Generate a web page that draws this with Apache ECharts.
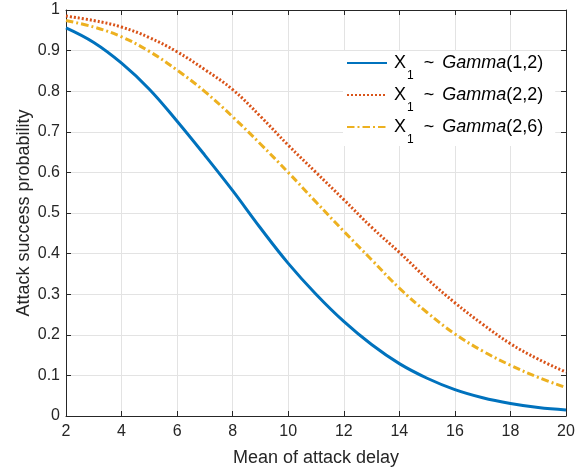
<!DOCTYPE html>
<html>
<head>
<meta charset="utf-8">
<script src="https://cdn.jsdelivr.net/npm/echarts@6/dist/echarts.min.js"></script>
<style>
  html, body { margin: 0; padding: 0; background: #fff; }
  #chart { width: 582px; height: 472px; }
</style>
</head>
<body>
<div id="chart"></div>
<script>
// mean of attack delay
const delayMeans = [2, 3, 4, 5, 6, 7, 8, 9, 10, 11, 12, 13, 14, 15, 16, 17, 18, 19, 20]

// attack success probability
const gamma12 = [0.956, 0.92, 0.869, 0.805, 0.726, 0.642, 0.555, 0.463, 0.376, 0.30, 0.233, 0.176, 0.129, 0.093, 0.065, 0.045, 0.031, 0.021, 0.015]
const gamma22 = [0.985, 0.974, 0.958, 0.932, 0.897, 0.853, 0.804, 0.738, 0.667, 0.60, 0.533, 0.465, 0.403, 0.338, 0.279, 0.226, 0.178, 0.14, 0.108]
const gamma26 = [0.974, 0.958, 0.934, 0.898, 0.852, 0.799, 0.737, 0.67, 0.60, 0.527, 0.455, 0.385, 0.315, 0.255, 0.202, 0.16, 0.125, 0.095, 0.070]

const gammaParams = ['(1,2)', '(2,2)', '(2,6)']

const FONT = '"Liberation Sans", Arial, Helvetica, sans-serif'
const INK = '#262626'
const GRID = '#e3e3e3'

const chart = echarts.init(document.getElementById('chart'))

function pairs(ys) {
  return delayMeans.map((x, i) => [x, ys[i]])
}

function lineSeries(name, ys, color, dash) {
  return {
    name: name,
    type: 'line',
    data: pairs(ys),
    symbol: 'none',
    smooth: 0.4,
    lineStyle: { color: color, width: 3, type: dash },
    itemStyle: { color: color },
    z: 3,
  }
}

const tickStyle = { inside: true, length: 5, lineStyle: { color: INK, width: 1 } }

const option = {
  animation: false,
  backgroundColor: '#fff',
  grid: { left: 66, top: 10, width: 500, height: 410 },
  xAxis: [
    {
      type: 'value',
      min: 2, max: 20, interval: 2,
      name: 'Mean of attack delay',
      nameLocation: 'middle',
      nameGap: 33,
      nameMoveOverlap: false,
      nameTextStyle: { fontFamily: FONT, fontSize: 18, color: INK },
      axisLine: { onZero: false, lineStyle: { color: INK, width: 1 } },
      axisTick: tickStyle,
      axisLabel: { fontFamily: FONT, fontSize: 16, color: INK, margin: 8 },
      splitLine: { show: true, lineStyle: { color: GRID, width: 1 } },
    },
    {
      type: 'value', position: 'top',
      min: 2, max: 20, interval: 2,
      axisLine: { onZero: false, lineStyle: { color: INK, width: 1 } },
      axisTick: tickStyle,
      axisLabel: { show: false },
      splitLine: { show: false },
    },
  ],
  yAxis: [
    {
      type: 'value',
      min: 0, max: 1, interval: 0.1,
      name: 'Attack success probability',
      nameLocation: 'middle',
      nameGap: 33,
      nameMoveOverlap: false,
      nameTextStyle: { fontFamily: FONT, fontSize: 18, color: INK },
      axisLine: { show: true, onZero: false, lineStyle: { color: INK, width: 1 } },
      axisTick: tickStyle,
      axisLabel: { fontFamily: FONT, fontSize: 16, color: INK, margin: 6 },
      splitLine: { show: true, lineStyle: { color: GRID, width: 1 } },
    },
    {
      type: 'value', position: 'right',
      min: 0, max: 1, interval: 0.1,
      axisLine: { show: true, onZero: false, lineStyle: { color: INK, width: 1 } },
      axisTick: tickStyle,
      axisLabel: { show: false },
      splitLine: { show: false },
    },
  ],
  legend: {
    orient: 'vertical',
    left: 343,
    top: 51,
    width: 205,
    backgroundColor: '#fff',
    padding: [3, 12, 0, 3],
    itemWidth: 40,
    itemHeight: 14,
    itemGap: 4,
    itemStyle: { color: 'rgba(0,0,0,0)', borderColor: 'rgba(0,0,0,0)', borderWidth: 0 },
    formatter: (name) => '{x|X}{s|1}{t|  ~ }{g|Gamma}{t|' + name + '}',
    textStyle: {
      fontFamily: FONT,
      color: '#000',
      rich: {
        x: { fontFamily: FONT, fontSize: 18, lineHeight: 18, verticalAlign: 'top', padding: [0, 0, 0, 2], color: '#000' },
        s: { fontFamily: FONT, fontSize: 12, lineHeight: 12, verticalAlign: 'top', padding: [16, 0, 0, 1], color: '#000' },
        t: { fontFamily: FONT, fontSize: 18, lineHeight: 18, verticalAlign: 'top', color: '#000' },
        g: { fontFamily: FONT, fontSize: 18, lineHeight: 18, verticalAlign: 'top', fontStyle: 'italic', padding: [0, 0, 0, 3], color: '#000' },
      },
    },
    data: gammaParams,
  },
  series: [
    lineSeries(gammaParams[0], gamma12, '#0072BD', 'solid'),
    lineSeries(gammaParams[1], gamma22, '#D95319', [2, 2]),
    lineSeries(gammaParams[2], gamma26, '#EDB120', [7.5, 3, 2, 3]),
  ],
}

chart.setOption(option)
</script>
</body>
</html>
